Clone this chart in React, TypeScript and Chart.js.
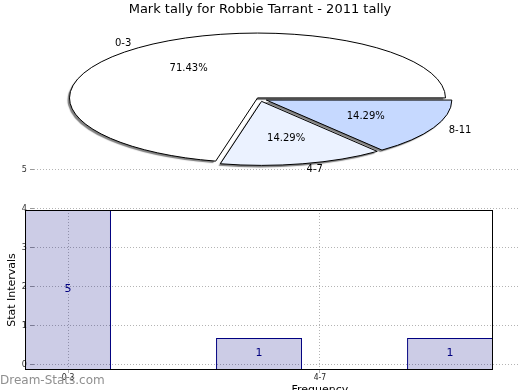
import React, { useEffect, useRef } from 'react';
import { Chart, registerables } from 'chart.js';

Chart.register(...registerables);

const FONT = "'DejaVu Sans', 'Liberation Sans', sans-serif";
const SMALL_FONT = "'DejaVu Sans Condensed', 'DejaVu Sans', sans-serif";

const TITLE = 'Mark tally for Robbie Tarrant - 2011 tally';
const CATEGORIES = ['0-3', '4-7', '8-11'];
const COUNTS = [5, 1, 1];
const BAR_POSITIONS = [0, 1, 2];
const PIE_COLORS = ['#ffffff', '#ebf2ff', '#c6d9ff'];
const PIE_OFFSETS = [16, 28, 28];
const Y_TICKS = [0, 1, 2, 3, 4, 5];
const X_TICKS = [0, 1];
const X_TICK_LABELS = ['0-3', '4-7'];
const Y_TITLE = 'Stat Intervals';
const X_TITLE = 'Frequency';
const WATERMARK = 'Dream-Stats.com';

const SQUASH = 0.345;

function pieTransform(ctx: CanvasRenderingContext2D, cx: number, cy: number) {
  ctx.translate(cx, cy);
  ctx.scale(-1, SQUASH);
  ctx.translate(-cx, -cy);
}

const piePlugin = {
  id: 'squashPie',
  beforeDatasetsDraw(chart: any) {
    const ctx = chart.ctx as CanvasRenderingContext2D;
    const arc = chart.getDatasetMeta(0).data[0];
    ctx.save();
    pieTransform(ctx, arc.x, arc.y);
    ctx.shadowColor = 'rgba(0,0,0,0.5)';
    ctx.shadowOffsetX = -2;
    ctx.shadowOffsetY = 2;
    ctx.shadowBlur = 1;
  },
  afterDatasetsDraw(chart: any) {
    const ctx = chart.ctx as CanvasRenderingContext2D;
    ctx.restore();
    const els = chart.getDatasetMeta(0).data as any[];
    els.forEach((el) => {
      const o = (el.options.offset || 0) / 4;
      const half = (el.startAngle + el.endAngle) / 2;
      const circ = el.endAngle - el.startAngle;
      const r = el.outerRadius + o * (1 - Math.sin(Math.min(Math.PI, circ)));
      const x = el.x + Math.cos(half) * o;
      const y = el.y + Math.sin(half) * o;
      ctx.save();
      pieTransform(ctx, el.x, el.y);
      ctx.beginPath();
      ctx.moveTo(x, y);
      ctx.arc(x, y, r, el.startAngle, el.endAngle);
      ctx.closePath();
      ctx.restore();
      ctx.save();
      ctx.lineWidth = 1;
      ctx.strokeStyle = '#000';
      ctx.stroke();
      ctx.restore();
    });
    const total = COUNTS.reduce((a, b) => a + b, 0);
    ctx.save();
    ctx.font = `10px ${FONT}`;
    ctx.fillStyle = '#000';
    ctx.textBaseline = 'middle';
    els.forEach((el, i) => {
      const o = (el.options.offset || 0) / 4;
      const half = (el.startAngle + el.endAngle) / 2;
      const toScreen = (d: number) => ({
        x: el.x - Math.cos(half) * d,
        y: el.y + Math.sin(half) * d * SQUASH,
      });
      const p = toScreen(o + el.outerRadius * 0.6);
      ctx.textAlign = 'center';
      ctx.fillText(((COUNTS[i] / total) * 100).toFixed(2) + '%', p.x, p.y);
      const q = toScreen(o + el.outerRadius * 1.1);
      ctx.textAlign = q.x < el.x ? 'right' : 'left';
      ctx.fillText(CATEGORIES[i], q.x, q.y);
    });
    ctx.restore();
  },
};

const barPlugin = {
  id: 'frameAndLabels',
  afterDatasetsDraw(chart: any) {
    const ctx = chart.ctx as CanvasRenderingContext2D;
    const bars = chart.getDatasetMeta(0).data as any[];
    const yS = chart.scales.y;
    const first = bars[0];
    const last = bars[bars.length - 1];
    const left = Math.round(first.x - first.width / 2) + 0.5;
    const right = Math.round(last.x + last.width / 2) - 0.5;
    const top = Math.round(yS.getPixelForValue(yS.max)) + 0.5;
    const bottom = Math.round(yS.getPixelForValue(yS.min)) - 0.5;
    ctx.save();
    ctx.strokeStyle = '#000';
    ctx.lineWidth = 1;
    ctx.strokeRect(left, top, right - left, bottom - top);
    ctx.fillStyle = '#000080';
    ctx.font = `11px ${FONT}`;
    ctx.textAlign = 'center';
    ctx.textBaseline = 'middle';
    bars.forEach((b, i) => ctx.fillText(String(COUNTS[i]), b.x, (b.y + b.base) / 2 - 1));
    const xs = chart.scales.xg;
    ctx.fillStyle = '#000';
    ctx.textBaseline = 'top';
    ctx.fillText(X_TITLE, xs.getPixelForValue(X_TICKS[1]), chart.chartArea.bottom + 15);
    ctx.restore();
  },
};

const GRID_COLOR = '#b4b4b4';

export default function App() {
  const pieRef = useRef<HTMLCanvasElement>(null);
  const barRef = useRef<HTMLCanvasElement>(null);

  useEffect(() => {
    document.body.style.margin = '0';
    Chart.defaults.font.family = FONT;

    const bar = new Chart(barRef.current as HTMLCanvasElement, {
      type: 'bar',
      data: {
        datasets: [
          {
            data: BAR_POSITIONS.map((x, i) => ({ x, y: COUNTS[i] })),
            xAxisID: 'x',
            yAxisID: 'y',
            backgroundColor: 'rgba(0,0,128,0.2)',
            borderColor: '#000080',
            borderWidth: 1,
            barPercentage: 0.45,
            categoryPercentage: 1,
            clip: false,
          } as any,
        ],
      },
      options: {
        animation: false,
        responsive: false,
        events: [],
        layout: { padding: { top: 210, left: 0, right: 0, bottom: 0 } },
        plugins: { legend: { display: false }, tooltip: { enabled: false } },
        scales: {
          x: {
            type: 'linear',
            display: false,
            offset: false,
            min: -0.178,
            max: 2.366,
            afterBuildTicks: (s: any) => {
              s.ticks = BAR_POSITIONS.map((v) => ({ value: v }));
            },
          },
          y: { type: 'linear', display: false, min: 0, max: 5 },
          xg: {
            type: 'linear',
            position: 'bottom',
            offset: false,
            min: -0.135,
            max: 1.794,
            afterBuildTicks: (s: any) => {
              s.ticks = X_TICKS.map((v) => ({ value: v }));
            },
            afterFit: (s: any) => {
              s.height = 20;
            },
            ticks: {
              callback: (v: any) => X_TICK_LABELS[X_TICKS.indexOf(Number(v))] ?? '',
              font: { family: SMALL_FONT, size: 8.5 },
              color: '#222',
              padding: 0,
              maxRotation: 0,
              autoSkip: false,
            },
            grid: { offset: false, color: GRID_COLOR, tickLength: 3, tickBorderDash: [] },
            border: { display: false, dash: [1, 2] },
          },
          yg: {
            type: 'linear',
            position: 'left',
            min: -0.146,
            max: 3.956,
            afterBuildTicks: (s: any) => {
              s.ticks = Y_TICKS.map((v) => ({ value: v }));
            },
            afterFit: (s: any) => {
              s.width = 34;
            },
            ticks: {
              font: { family: SMALL_FONT, size: 9 },
              color: '#333',
              padding: 3,
              autoSkip: false,
            },
            grid: { color: GRID_COLOR, tickLength: 4, tickBorderDash: [], tickColor: '#999' },
            border: { display: false, dash: [1, 2] },
            title: {
              display: true,
              text: Y_TITLE,
              font: { family: FONT, size: 11 },
              color: '#000',
              padding: { top: 6, bottom: 0 },
            },
          },
        } as any,
      },
      plugins: [barPlugin],
    });

    const pie = new Chart(pieRef.current as HTMLCanvasElement, {
      type: 'pie',
      data: {
        labels: CATEGORIES,
        datasets: [
          {
            data: COUNTS,
            backgroundColor: PIE_COLORS,
            borderWidth: 0,
            offset: PIE_OFFSETS,
            radius: 184,
            rotation: -90,
            clip: false,
          } as any,
        ],
      },
      options: {
        animation: false,
        responsive: false,
        events: [],
        layout: { padding: { top: 0, left: 0, right: 0, bottom: 209.6 } },
        plugins: {
          legend: { display: false },
          tooltip: { enabled: false },
          title: {
            display: true,
            text: TITLE,
            color: '#000',
            font: { family: FONT, size: 13, weight: 'normal' },
            padding: { top: 2, bottom: 0 },
          },
        },
      } as any,
      plugins: [piePlugin],
    });

    return () => {
      bar.destroy();
      pie.destroy();
    };
  }, []);

  return (
    <div style={{ position: 'relative', width: 520, height: 390, overflow: 'hidden' }}>
      <canvas ref={barRef} width={520} height={390} style={{ position: 'absolute', left: 0, top: 0 }} />
      <canvas ref={pieRef} width={520} height={390} style={{ position: 'absolute', left: 0, top: 0 }} />
      <div
        style={{
          position: 'absolute',
          left: 0,
          top: 373,
          font: `12px ${FONT}`,
          lineHeight: '14px',
          color: '#8f8f8f',
          whiteSpace: 'nowrap',
        }}
      >
        {WATERMARK}
      </div>
    </div>
  );
}
